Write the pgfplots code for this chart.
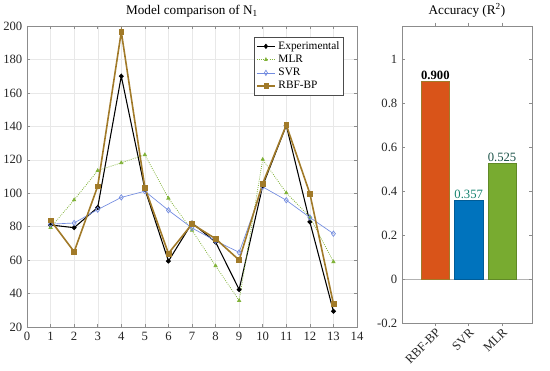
\documentclass[border=0pt]{standalone}
\usepackage{fontspec}
\setmainfont{Liberation Serif}
\usepackage{pgfplots}
\pgfplotsset{compat=1.18}
\definecolor{cexp}{rgb}{0,0,0}
\definecolor{cmlr}{rgb}{0.50,0.70,0.22}
\definecolor{csvr}{rgb}{0.45,0.55,0.88}
\definecolor{crbf}{rgb}{0.63,0.48,0.16}
\definecolor{borange}{rgb}{0.85,0.33,0.10}
\definecolor{bblue}{rgb}{0.00,0.45,0.74}
\definecolor{bgreen}{rgb}{0.47,0.67,0.19}
\definecolor{axgray}{rgb}{0.55,0.55,0.55}
\begin{document}
\begin{tikzpicture}
\useasboundingbox (-20.25pt,-33pt) rectangle (392.25pt,245.25pt);
\begin{axis}[
  at={(0pt,0pt)}, anchor=south west,
  scale only axis, width=247.5pt, height=225.75pt,
  xmin=0, xmax=14, ymin=20, ymax=200,
  xtick={0,1,...,14}, ytick={20,40,...,200},
  grid=major, major grid style={line width=0.3pt, draw=gray!18},
  axis line style={draw=axgray, line width=0.4pt},
  tick style={draw=axgray, line width=0.4pt}, tick align=inside,
  major tick length=2.5pt,
  ticklabel style={font=\fontsize{9.5}{10}\selectfont, text=black!85},
  /pgf/number format/assume math mode=true,
  title={Model comparison of N\textsubscript{1}},
  title style={font=\fontsize{9.9}{11}\selectfont, yshift=-3pt},
  legend style={at={(0.96,0.963)}, anchor=north east, font=\fontsize{8.5}{9}\selectfont,
    draw=black!70, line width=0.4pt, inner sep=1pt, row sep=-1.2pt, fill=white},
  legend cell align=left,
  legend image post style={xscale=0.8},
]
\addplot[color=cexp, line width=0.8pt, mark=*, mark size=1.4pt] coordinates {
(1,81) (2,79.4) (3,91.5) (4,170) (5,102.5) (6,59.4) (7,82.2) (8,70.8) (9,42.4) (10,104.5) (11,140.5) (12,82.8) (13,29.4)};
\addlegendentry{Experimental}
\addplot[color=cmlr, line width=0.6pt, densely dotted, mark=triangle*, mark size=1.3pt, mark options={solid}] coordinates {
(1,79.5) (2,96) (3,113.5) (4,118.2) (5,123) (6,97) (7,77.8) (8,56.6) (9,35.8) (10,120.2) (11,100.2) (12,85.8) (13,59)};
\addlegendentry{MLR}
\addplot[color=csvr, line width=0.5pt, mark=diamond, mark size=2pt, mark options={fill=white}] coordinates {
(1,81.5) (2,82.2) (3,90.2) (4,97.5) (5,101.2) (6,89.8) (7,79.2) (8,71.6) (9,64.6) (10,103.8) (11,95.8) (12,85.5) (13,75.8)};
\addlegendentry{SVR}
\addplot[color=crbf, line width=1.2pt, mark=square*, mark size=1.8pt, mark options={line width=0.4pt}] coordinates {
(1,83.8) (2,65) (3,104.2) (4,196.5) (5,103.4) (6,64) (7,81.6) (8,72.8) (9,60) (10,105.8) (11,140.8) (12,99.8) (13,33.8)};
\addlegendentry{RBF-BP}
\end{axis}
\begin{axis}[
  at={(281.25pt,3pt)}, anchor=south west,
  scale only axis, width=97.5pt, height=222.75pt,
  xmin=0, xmax=3.9, ymin=-0.2, ymax=1.15,
  xtick={1,2,3}, xticklabels={RBF-BP,SVR,MLR},
  ytick={-0.2,0,0.2,0.4,0.6,0.8,1},
  yticklabels={-0.2,0,0.2,0.4,0.6,0.8,1},
  axis line style={draw=axgray, line width=0.4pt},
  tick style={draw=axgray, line width=0.4pt}, tick align=inside,
  major tick length=2.5pt,
  ticklabel style={font=\fontsize{9.5}{10}\selectfont, text=black!85},
  x tick label style={rotate=45, anchor=north east, inner sep=0.5pt},
  /pgf/number format/assume math mode=true,
  title={Accuracy (R\textsuperscript{2})},
  title style={font=\fontsize{9.9}{11}\selectfont, yshift=-3pt},
  ybar, bar width=0.85, bar shift=0pt,
  extra y ticks={0}, extra y tick labels={},
  extra y tick style={grid=major, major grid style={draw=gray!60, line width=0.4pt}},
]
\addplot[fill=borange, draw=crbf, line width=0.6pt] coordinates {(1,0.900)};
\addplot[fill=bblue, draw=bblue!80!black, line width=0.4pt] coordinates {(2,0.357)};
\addplot[fill=bgreen, draw=bgreen!80!black, line width=0.4pt] coordinates {(3,0.525)};
\node[font=\fontsize{9.5}{10}\selectfont\bfseries, anchor=south, inner sep=1pt] at (axis cs:1,0.900) {0.900};
\node[font=\fontsize{9.5}{10}\selectfont, text={rgb,255:red,20;green,130;blue,110}, anchor=south, inner sep=1pt] at (axis cs:2,0.357) {0.357};
\node[font=\fontsize{9.5}{10}\selectfont, text={rgb,255:red,25;green,80;blue,70}, anchor=south, inner sep=1pt] at (axis cs:3,0.525) {0.525};
\end{axis}
\end{tikzpicture}
\end{document}
